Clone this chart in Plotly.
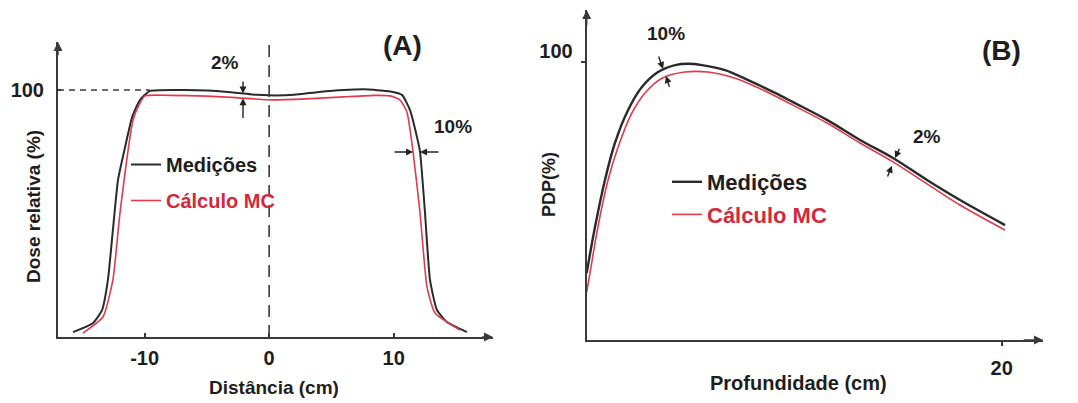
import plotly.graph_objects as go

# ---- Panel A: perfil de dose (Distância x Dose relativa) ----
a_med_x = [-15.75, -14.14, -13.42, -12.95, -12.55, -12.14, -11.57, -11.0, -10.37, -9.57,
           -7, -5, -2.5, -1, 0, 2, 4, 6, 8, 9.95,
           10.67, 11.31, 11.87, 12.12, 12.52, 12.92, 13.48, 14.28, 15.89]
a_med_y = [2.0, 5.7, 10.9, 23.1, 43.3, 63.6, 76.9, 89.1, 96.0, 99.6,
           100.0, 99.8, 98.8, 98.0, 97.8, 98.0, 99.2, 100.0, 100.2, 99.2,
           98.0, 91.9, 81.0, 74.9, 50.2, 23.1, 10.9, 6.1, 2.0]

a_mc_x = [-14.96, -13.35, -12.55, -11.98, -10.93, -10.4, -9.97, -8, -5, -2.5,
          0, 3, 6, 8.5, 9.7, 10.5, 11.07, 11.56, 12.12, 12.68, 13.32, 15.33]
a_mc_y = [1.6, 8.1, 23.1, 50.2, 87.9, 94.5, 97.6, 97.8, 97.5, 96.8,
          96.0, 96.4, 97.2, 97.8, 97.6, 96.0, 91.0, 74.9, 50.2, 20.2, 9.7, 2.8]

a_ticks = [-10, 0, 10]
a_tick_labels = ["-10", "0", "10"]

# ---- Panel B: PDP (Profundidade x PDP) ----
b_med_d = [0, 0.4, 0.88, 1.36, 1.99, 2.66, 3.44, 4.26, 4.9, 5.56,
           6.67, 7.78, 9.08, 9.94, 11.58, 13.17, 14.76, 16.4, 17.99, 20.16]
b_med_y = [24.1, 40.6, 57.5, 70.8, 82.6, 90.9, 96.3, 98.8, 99.3, 98.8,
           97.0, 93.4, 88.8, 85.5, 79.1, 71.9, 65.4, 57.5, 50.3, 41.3]

b_mc_d = [0, 0.16, 0.54, 1.03, 1.51, 2.18, 2.81, 3.63, 4.74, 5.85,
          7.15, 8.45, 9.94, 11.58, 13.17, 14.76, 16.4, 17.99, 20.16]
b_mc_y = [17.2, 24.1, 40.6, 57.5, 69.3, 81.6, 88.8, 94.1, 96.3, 96.3,
          94.1, 90.0, 84.4, 78.0, 70.8, 64.0, 56.1, 48.5, 39.5]

b_xticks = [20]
b_yticks = [100]

BLACK = "#2a2a2a"
RED = "#e23a4a"
RED_TEXT = "#d4283c"
TXT = "#1e1e1e"
FONT = "Liberation Sans, Arial, sans-serif"

A_X = [-16.96, 17.98]
A_Y = [0, 119.4]
B_X = [0, 21.99]
B_Y = [0, 118.6]

fig = go.Figure()

fig.add_trace(go.Scatter(x=a_med_x, y=a_med_y, mode="lines", name="Medições",
                         line=dict(color=BLACK, width=2, shape="spline", smoothing=0.5),
                         xaxis="x", yaxis="y", legend="legend", legendgroup="a1"))
fig.add_trace(go.Scatter(x=a_mc_x, y=a_mc_y, mode="lines",
                         name=f"<span style='color:{RED_TEXT}'>Cálculo MC</span>",
                         line=dict(color=RED, width=1.6, shape="spline", smoothing=0.5),
                         xaxis="x", yaxis="y", legend="legend", legendgroup="a2"))
fig.add_trace(go.Scatter(x=b_med_d, y=b_med_y, mode="lines", name="Medições",
                         line=dict(color=BLACK, width=2.4, shape="spline", smoothing=1.0),
                         xaxis="x2", yaxis="y2", legend="legend2", legendgroup="b1"))
fig.add_trace(go.Scatter(x=b_mc_d, y=b_mc_y, mode="lines",
                         name=f"<span style='color:{RED_TEXT}'>Cálculo MC</span>",
                         line=dict(color=RED, width=1.6, shape="spline", smoothing=1.0),
                         xaxis="x2", yaxis="y2", legend="legend2", legendgroup="b2"))

axis_common = dict(showgrid=False, zeroline=False, showline=True, linecolor="#3a3a3a",
                   linewidth=2, tickcolor="#3a3a3a", tickwidth=1.5,
                   tickfont=dict(family=FONT, size=20, color=TXT, weight="bold"))

fig.update_layout(
    width=1078, height=403,
    margin=dict(l=0, r=0, t=0, b=0),
    paper_bgcolor="white", plot_bgcolor="white",
    font=dict(family=FONT, color=TXT),
    xaxis=dict(domain=[58 / 1078, 493 / 1078], range=A_X, anchor="y",
               tickmode="array", tickvals=a_ticks, ticktext=a_tick_labels,
               ticks="inside", ticklen=4, ticklabelstandoff=2, **axis_common),
    yaxis=dict(domain=[(403 - 337) / 403, (403 - 42) / 403], range=A_Y, anchor="x",
               tickmode="array", tickvals=[100], ticktext=["100"],
               ticks="inside", ticklen=3, ticklabelstandoff=8, **axis_common),
    xaxis2=dict(domain=[586.7 / 1078, 1043 / 1078], range=B_X, anchor="y2",
                tickmode="array", tickvals=b_xticks, ticktext=[str(v) for v in b_xticks],
                ticks="outside", ticklen=4, ticklabelstandoff=5, **axis_common),
    yaxis2=dict(domain=[(403 - 340) / 403, (403 - 10) / 403], range=B_Y, anchor="x2",
                tickmode="array", tickvals=b_yticks, ticktext=[str(v) for v in b_yticks],
                ticks="outside", ticklen=4, ticklabelshift=-11, ticklabelstandoff=4,
                **axis_common),
    legend=dict(x=126 / 1078, y=(403 - 145) / 403, xanchor="left", yanchor="top",
                bgcolor="rgba(0,0,0,0)", tracegroupgap=7,
                font=dict(family=FONT, size=20, color=TXT, weight="bold")),
    legend2=dict(x=667 / 1078, y=(403 - 161) / 403, xanchor="left", yanchor="top",
                 bgcolor="rgba(0,0,0,0)", tracegroupgap=1,
                 font=dict(family=FONT, size=22, color=TXT, weight="bold")),
    showlegend=True,
)

# dashed reference lines in panel A
fig.add_shape(type="line", xref="x", yref="y", x0=A_X[0], x1=-9.6, y0=100, y1=100,
              line=dict(color="#3a3a3a", width=1.6, dash="6px,5px"))
fig.add_shape(type="line", xref="x", yref="y", x0=0, x1=0, y0=0, y1=A_Y[1],
              line=dict(color="#3a3a3a", width=1.6, dash="12px,8px"))

ann = []

# axis arrowheads
def axis_arrow(xref, yref, x, y, ax, ay):
    ann.append(dict(xref=xref, yref=yref, x=x, y=y, axref=xref, ayref=yref, ax=ax, ay=ay,
                    text="", showarrow=True, arrowhead=2, arrowsize=1.2, arrowwidth=1.5,
                    arrowcolor="#3a3a3a"))

axis_arrow("x", "y", A_X[0], A_Y[1], A_X[0], A_Y[1] - 6)
axis_arrow("x", "y", A_X[1], 0, A_X[1] - 1, 0)
axis_arrow("x2", "y2", 0, B_Y[1], 0, B_Y[1] - 6)
axis_arrow("x2", "y2", B_X[1], 0, B_X[1] - 1, 0)

# tolerance markers
def marker(xref, yref, x, y, ax, ay):
    ann.append(dict(xref=xref, yref=yref, x=x, y=y, axref=xref, ayref=yref, ax=ax, ay=ay,
                    text="", showarrow=True, arrowhead=2, arrowsize=1, arrowwidth=1.4,
                    arrowcolor="#222", standoff=0))

marker("x", "y", -2.1, 98.6, -2.1, 104.0)
marker("x", "y", -2.1, 96.6, -2.1, 88.0)
marker("x", "y", 11.56, 74.9, 9.95, 74.9)
marker("x", "y", 12.12, 74.9, 13.72, 74.9)
marker("x2", "y2", 3.68, 97.4, 3.44, 102.4)
marker("x2", "y2", 3.82, 94.9, 4.01, 90.5)
marker("x2", "y2", 14.86, 65.4, 15.1, 69.3)
marker("x2", "y2", 14.71, 62.6, 14.47, 58.2)

def label(xref, yref, x, y, text, size, **kw):
    ann.append(dict(xref=xref, yref=yref, x=x, y=y, text=text, showarrow=False,
                    xanchor="center", yanchor="middle",
                    font=dict(family=FONT, size=size, color=TXT, weight="bold"), **kw))

label("x", "y", -3.55, 110.9, "2%", 19)
label("x", "y", 14.76, 85.0, "10%", 19)
label("x", "y", 10.75, 118.0, "(A)", 28)
label("x2", "y2", 3.8, 110.3, "10%", 19)
label("x2", "y2", 16.4, 73.3, "2%", 19)
label("x2", "y2", 20.0, 104.2, "(B)", 28)

# axis titles
label("paper", "paper", 274 / 1078, (403 - 387) / 403, "Distância (cm)", 19)
label("paper", "paper", 33 / 1078, (403 - 207) / 403, "Dose relativa (%)", 19, textangle=-90)
label("paper", "paper", 798 / 1078, (403 - 383) / 403, "Profundidade (cm)", 20)
label("paper", "paper", 549 / 1078, (403 - 185) / 403, "PDP(%)", 18, textangle=-90)

fig.update_layout(annotations=ann)

fig.write_html("out.html")
